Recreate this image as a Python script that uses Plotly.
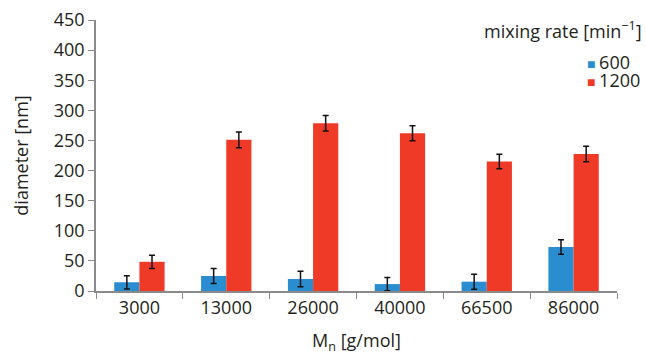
import plotly.graph_objects as go

# Molar mass categories (M_n, g/mol)
categories = ["3000", "13000", "26000", "40000", "66500", "86000"]

# Mean particle diameter [nm] per mixing rate
diam_600 = [14.5, 25, 20, 11.5, 15.5, 73]
diam_1200 = [48.5, 251, 278.5, 262, 215, 227.5]

# Standard deviations [nm]
err_600 = [11, 12.5, 13, 11, 12.5, 12]
err_1200 = [11, 13, 13, 12.5, 12, 13]

series_names = ["600", "1200"]
colors = ["#2a8dd0", "#ee3a27"]

font_family = "Open Sans, Noto Sans, sans-serif"
text_color = "#231f20"
axis_color = "#8a8a8a"
fs = 18

fig = go.Figure()
for name, vals, errs, col in zip(series_names, [diam_600, diam_1200], [err_600, err_1200], colors):
    fig.add_trace(go.Bar(
        x=categories, y=vals, name=name, showlegend=False,
        marker=dict(color=col, line=dict(width=0)),
        error_y=dict(type="data", array=errs, visible=True,
                     color="#111111", thickness=1.5, width=3),
    ))

# Legend block: title plus one coloured square and label per series
legend_ann = [dict(
    text="mixing rate [min<sup>−1</sup>]",
    xref="paper", yref="paper", x=1.052, y=0.963,
    xanchor="right", yanchor="middle", showarrow=False,
    font=dict(size=fs, color=text_color),
)]
for i, (name, col) in enumerate(zip(series_names, colors)):
    legend_ann.append(dict(
        text=f"<span style='color:{col};font-size:14px'>■ </span>{name}",
        xref="paper", yref="paper", x=0.938, y=0.846 - i * 0.067,
        xanchor="left", yanchor="middle", showarrow=False,
        font=dict(size=fs, color=text_color),
    ))

fig.update_layout(
    width=646, height=355,
    margin=dict(l=96, r=29, t=20, b=64),
    paper_bgcolor="white", plot_bgcolor="white",
    barmode="group", bargap=0.42, bargroupgap=0,
    font=dict(family=font_family, size=fs, color=text_color),
    annotations=legend_ann,
)

fig.update_xaxes(
    showline=True, linecolor=axis_color, linewidth=1.5,
    ticks="outside", tickson="boundaries", ticklen=6, tickcolor=axis_color,
    tickfont=dict(size=fs, color=text_color),
    title=dict(text="M<sub>n</sub> [g/mol]", standoff=22,
               font=dict(size=fs, color=text_color)),
    showgrid=False, automargin=False,
)
fig.update_yaxes(
    range=[0, 450], dtick=50,
    showline=True, linecolor=axis_color, linewidth=1.5,
    ticks="outside", ticklen=6, tickcolor=axis_color,
    tickfont=dict(size=fs, color=text_color),
    title=dict(text="diameter [nm]", standoff=20,
               font=dict(size=fs, color=text_color)),
    showgrid=False, zeroline=False, automargin=False,
)

fig.write_html("out.html")
